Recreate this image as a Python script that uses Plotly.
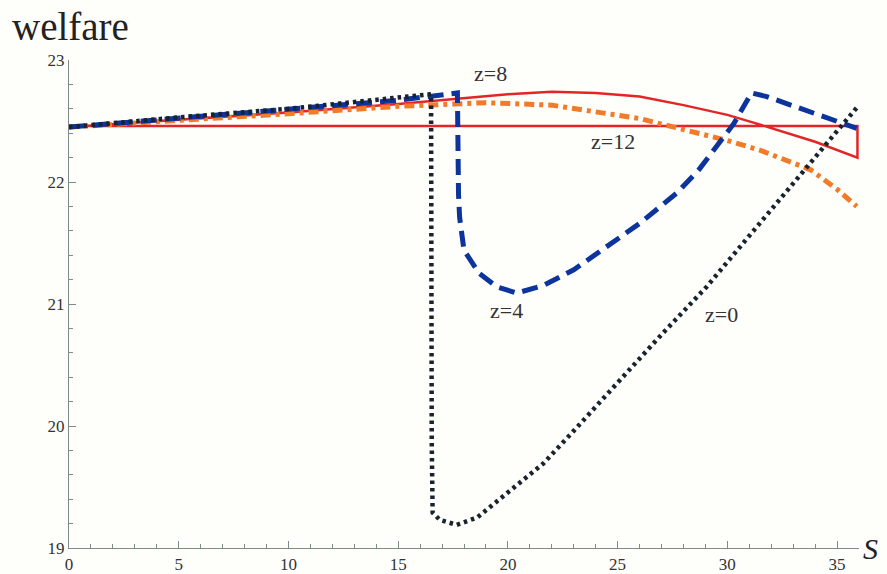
import plotly.graph_objects as go

# z=0 (black dotted)
s_z0 = [0, 5, 10, 15, 16.5, 16.53, 16.57, 16.9, 17.67, 18.6, 20.1, 21.6, 23.0, 24.8,
        26.9, 29.05, 31.5, 33.0, 34.5, 35.9]
w_z0 = [22.45, 22.53, 22.60, 22.69, 22.72, 19.88, 19.29, 19.23, 19.19, 19.25, 19.47, 19.69,
        19.96, 20.32, 20.73, 21.14, 21.66, 21.99, 22.31, 22.61]

# z=4 (blue dashed)
s_z4 = [0, 5, 10, 15, 17.7, 17.72, 17.75, 17.8, 18.0, 18.7, 19.5, 20.4, 21.6, 23.0, 24.5,
        26.0, 27.7, 28.7, 30.3, 31.1, 31.8, 33.8, 35.9]
w_z4 = [22.45, 22.52, 22.59, 22.67, 22.73, 22.2, 21.9, 21.71, 21.44, 21.25, 21.14, 21.09,
        21.15, 21.28, 21.47, 21.66, 21.91, 22.10, 22.48, 22.73, 22.70, 22.57, 22.44]

# orange dash-dot
s_or = [0, 5, 10, 15, 19, 22, 24, 26, 28, 30, 31.5, 33.8, 35.0, 35.9]
w_or = [22.45, 22.50, 22.56, 22.62, 22.65, 22.63, 22.58, 22.52, 22.43, 22.34, 22.26,
        22.10, 21.94, 21.80]

# red solid (closed loop)
s_red = [0, 5, 10, 15, 18, 20, 22, 24, 26, 28, 30, 31.5, 34, 35.93, 35.93, 0]
w_red = [22.45, 22.51, 22.57, 22.64, 22.69, 22.72, 22.74, 22.73, 22.70, 22.63, 22.55,
         22.47, 22.33, 22.20, 22.46, 22.46]

label_text = ["z=8", "z=12", "z=4", "z=0"]
label_s = [19.2, 24.8, 19.95, 29.75]
label_w = [22.89, 22.33, 20.95, 20.91]

x_ticks = [0, 5, 10, 15, 20, 25, 30, 35]
y_ticks = [19, 20, 21, 22, 23]

fig = go.Figure()
fig.add_trace(go.Scatter(x=s_red, y=w_red, mode="lines",
                         line=dict(color="rgb(226,38,40)", width=2.5)))
fig.add_trace(go.Scatter(x=s_or, y=w_or, mode="lines",
                         line=dict(color="rgb(242,122,40)", width=5, dash="10px,5px,4px,5px")))
fig.add_trace(go.Scatter(x=s_z4, y=w_z4, mode="lines",
                         line=dict(color="rgb(12,52,156)", width=5, dash="16px,8px")))
fig.add_trace(go.Scatter(x=s_z0, y=w_z0, mode="lines",
                         line=dict(color="rgb(25,35,45)", width=4.5, dash="3.5px,4px")))

for t, sx, wy in zip(label_text, label_s, label_w):
    fig.add_annotation(x=sx, y=wy, text=t, showarrow=False,
                       font=dict(family="Liberation Serif", size=22, color="#333"))

fig.add_annotation(xref="paper", yref="paper", x=-0.075, y=1.02, xanchor="left", yanchor="bottom",
                   text="welfare", showarrow=False,
                   font=dict(family="Liberation Serif", size=39, color="#222"))
fig.add_annotation(xref="paper", yref="paper", x=1.003, y=0.0, xanchor="left", yanchor="middle",
                   text="<i>S</i>", showarrow=False,
                   font=dict(family="Liberation Serif", size=30, color="#222"))

axis_col = "#7d8b8b"
fig.update_layout(
    width=887, height=574,
    margin=dict(l=69, r=28, t=60, b=26),
    paper_bgcolor="#fefefb", plot_bgcolor="#fefefb",
    showlegend=False,
    xaxis=dict(range=[0, 36.0], tickvals=x_ticks, showgrid=False, zeroline=False,
               showline=True, linecolor=axis_col, linewidth=1.2, automargin=False,
               ticks="inside", ticklen=7, tickcolor=axis_col,
               minor=dict(dtick=1, ticks="inside", ticklen=4, tickcolor=axis_col),
               tickfont=dict(family="Liberation Serif", size=17, color="#333")),
    yaxis=dict(range=[19, 23], tickvals=y_ticks, showgrid=False, zeroline=False,
               showline=True, linecolor=axis_col, linewidth=1.2, automargin=False,
               ticks="inside", ticklen=7, tickcolor=axis_col,
               minor=dict(dtick=0.2, ticks="inside", ticklen=4, tickcolor=axis_col),
               tickfont=dict(family="Liberation Serif", size=17, color="#333")),
)

fig.write_html("out.html", config={"displayModeBar": False},
               post_script="document.body.style.margin='0';document.body.style.overflow='hidden';")
